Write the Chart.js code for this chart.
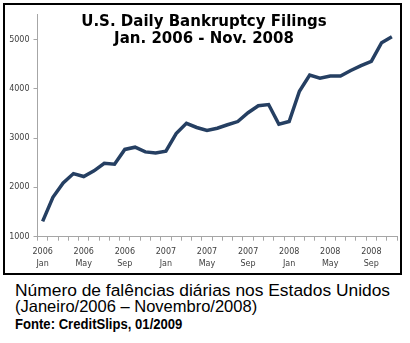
<!DOCTYPE html>
<html>
<head>
<meta charset="utf-8">
<script src="https://cdn.jsdelivr.net/npm/chart.js@4"></script>
<style>
  body { margin: 0; background: #fff; width: 410px; height: 343px; position: relative; overflow: hidden; }
  #box { position: absolute; left: 3px; top: 3px; width: 395px; height: 268px; border: 2px solid #000; }
  #chart { display: block; }
  .cap { position: absolute; left: 15px; white-space: nowrap; color: #000; line-height: 20px; }
  #cap1 { top: 280px; font: 17.4px "Liberation Sans", Arial, sans-serif; }
  #cap2 { top: 297px; font: 16.5px "Liberation Sans", Arial, sans-serif; }
  #cap3 { top: 315px; font: bold 15.5px "Liberation Sans", Arial, sans-serif; transform: scaleX(0.845); transform-origin: 0 0; }
</style>
</head>
<body>
<div id="box"><canvas id="chart" width="395" height="268"></canvas></div>
<div class="cap" id="cap1">Número de falências diárias nos Estados Unidos</div>
<div class="cap" id="cap2">(Janeiro/2006 – Novembro/2008)</div>
<div class="cap" id="cap3">Fonte: CreditSlips, 01/2009</div>
<script>
// Jan 2006 .. Nov 2008, um ponto por mês
const years = ['2006','2006','2006','2006','2006','2006','2006','2006','2006','2006','2006','2006',
               '2007','2007','2007','2007','2007','2007','2007','2007','2007','2007','2007','2007',
               '2008','2008','2008','2008','2008','2008','2008','2008','2008','2008','2008'];
const months = ['Jan','Feb','Mar','Apr','May','Jun','Jul','Aug','Sep','Oct','Nov','Dec',
                'Jan','Feb','Mar','Apr','May','Jun','Jul','Aug','Sep','Oct','Nov','Dec',
                'Jan','Feb','Mar','Apr','May','Jun','Jul','Aug','Sep','Oct','Nov'];
const filings = [1310, 1800, 2090, 2280, 2220, 2335, 2490, 2470, 2770, 2815, 2720, 2700,
                 2735, 3090, 3300, 3215, 3155, 3200, 3270, 3335, 3515, 3655, 3680, 3280,
                 3335, 3950, 4280, 4215, 4260, 4260, 4370, 4470, 4555, 4935, 5055];
const yTicks = [1000, 2000, 3000, 4000, 5000];
const titleLines = ['U.S. Daily Bankruptcy Filings', 'Jan. 2006 - Nov. 2008'];

// título desenhado por cima da área do gráfico
const overlayTitle = {
    id: 'overlayTitle',
    afterDraw(chart) {
        const ctx = chart.ctx;
        ctx.save();
        ctx.font = 'bold 15px "DejaVu Sans", Verdana, sans-serif';
        ctx.fillStyle = '#000';
        ctx.textAlign = 'center';
        ctx.textBaseline = 'alphabetic';
        ctx.fillText(titleLines[0], 199, 21);
        ctx.fillText(titleLines[1], 199, 37.7);
        ctx.restore();
    }
};

const tickFont = { family: '"DejaVu Sans", Verdana, sans-serif', size: 8, lineHeight: 1.45 };

new Chart(document.getElementById('chart').getContext('2d'), {
    type: 'line',
    data: {
        labels: months,
        datasets: [{
            data: filings,
            borderColor: '#253f62',
            borderWidth: 3.5,
            pointRadius: 0,
            tension: 0,
            fill: false
        }]
    },
    options: {
        responsive: false,
        animation: false,
        devicePixelRatio: 1,
        layout: { padding: { left: 0, right: 3, top: 7, bottom: 0 } },
        plugins: { legend: { display: false }, tooltip: { enabled: false } },
        scales: {
            x: {
                offset: true,
                afterFit: s => { s.height = 36.3; },
                grid: { display: true, drawOnChartArea: false, offset: true, tickLength: 4, color: '#a6a6a6' },
                border: { color: '#a6a6a6' },
                ticks: {
                    autoSkip: false, maxRotation: 0, minRotation: 0, padding: 5.5,
                    color: '#404040', font: tickFont,
                    callback: (v, i) => i % 4 === 0 ? [years[i], months[i]] : ''
                }
            },
            y: {
                min: 1000, max: 5500,
                afterFit: s => { s.width = 32.5; },
                afterBuildTicks: s => { s.ticks = yTicks.map(v => ({ value: v })); },
                grid: { drawOnChartArea: false, tickLength: 4, color: '#a6a6a6' },
                border: { color: '#a6a6a6' },
                ticks: {
                    autoSkip: false, padding: 4, color: '#404040', font: tickFont,
                    callback: v => String(v)
                }
            }
        }
    },
    plugins: [overlayTitle]
});
</script>
</body>
</html>
